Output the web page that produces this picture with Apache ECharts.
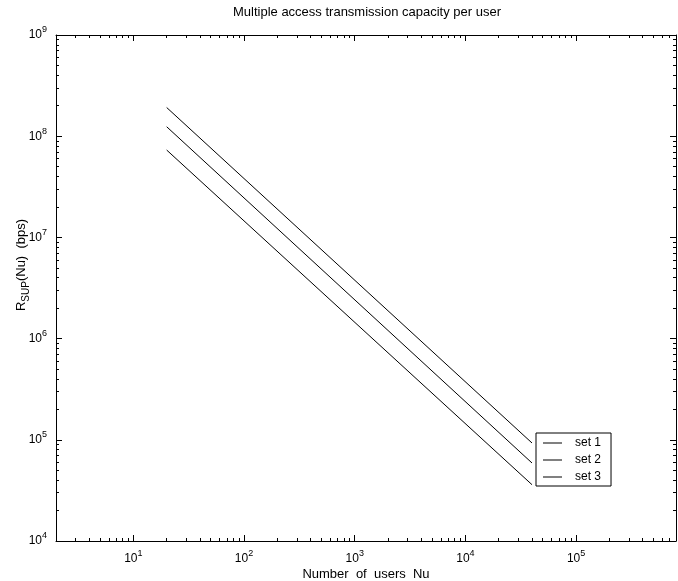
<!DOCTYPE html>
<html><head><meta charset="utf-8">
<script src="https://cdn.jsdelivr.net/npm/echarts@6/dist/echarts.min.js"></script>
<style>html,body{margin:0;padding:0;background:#fff}#c{width:678px;height:581px}</style>
</head><body><div id="c"></div>
<script>
// ---- data ----
const nuValues = [20, 40000];
const set1 = [1.92e8, 9.3e4];
const set2 = [1.24e8, 5.9e4];
const set3 = [7.3e7, 3.6e4];
const seriesNames = ['set 1', 'set 2', 'set 3'];
const xMajorTicks = [10, 100, 1000, 10000, 100000];
const yMajorTicks = [1e4, 1e5, 1e6, 1e7, 1e8, 1e9];
const xRange = [2, 800000];
const yRange = [1e4, 1e9];
const titleText = 'Multiple access transmission capacity per user';
const xName = 'Number  of  users  Nu';

// ---- helpers ----
const FONT = "'Liberation Sans', Arial, Helvetica, sans-serif";
function minorOf(range) {
  const out = [];
  const lo = Math.floor(Math.log10(range[0])), hi = Math.ceil(Math.log10(range[1]));
  for (let e = lo; e < hi; e++) for (let m = 2; m <= 9; m++) {
    const v = m * Math.pow(10, e);
    if (v > range[0] && v < range[1]) out.push(v);
  }
  return out;
}
const xMinor = minorOf(xRange), yMinor = minorOf(yRange);
function supFmt(v) { return '{b|10}{s|' + Math.round(Math.log10(v)) + '}'; }
const supRich = {
  b: {fontSize: 12, fontFamily: FONT, color: '#000'},
  s: {fontSize: 9, fontFamily: FONT, color: '#000', padding: [0, 0, 10, 0]}
};

function xAx(pos, ticks, len, withLabel, withLine) {
  return {
    type: 'log', logBase: 10, min: xRange[0], max: xRange[1], position: pos,
    axisLine: {show: withLine, lineStyle: {color: '#000', width: 1}},
    axisTick: {show: true, inside: true, length: len, customValues: ticks, lineStyle: {color: '#000'}},
    axisLabel: withLabel ? {show: true, customValues: xMajorTicks, formatter: supFmt, rich: supRich, margin: 8} : {show: false},
    splitLine: {show: false}, minorTick: {show: false}, minorSplitLine: {show: false},
    name: withLabel ? xName : '', nameLocation: 'middle', nameGap: 27, nameMoveOverlap: false,
    nameTextStyle: {fontSize: 13, fontFamily: FONT, color: '#000'}
  };
}
function yAx(pos, ticks, len, withLabel, withLine) {
  return {
    type: 'log', logBase: 10, min: yRange[0], max: yRange[1], position: pos,
    axisLine: {show: withLine, lineStyle: {color: '#000', width: 1}},
    axisTick: {show: true, inside: true, length: len, customValues: ticks, lineStyle: {color: '#000'}},
    axisLabel: withLabel ? {show: true, customValues: yMajorTicks, formatter: supFmt, rich: supRich, margin: 9} : {show: false},
    splitLine: {show: false}, minorTick: {show: false}, minorSplitLine: {show: false},
    name: withLabel ? '{r|R}{u|SUP}{r|(Nu)  (bps)}' : '', nameLocation: 'middle', nameGap: 25, nameRotate: 90,
    nameMoveOverlap: false,
    nameTextStyle: {fontSize: 13, fontFamily: FONT, color: '#000', padding: [0, 0, 0, 46], rich: {
      r: {fontSize: 13, fontFamily: FONT, color: '#000'},
      u: {fontSize: 10, fontFamily: FONT, color: '#000', padding: [10, 0, 0, 0]}
    }}
  };
}

const chart = echarts.init(document.getElementById('c'), null, {renderer: 'canvas'});
const lineStyle = {color: '#000', width: 1};
chart.setOption({
  backgroundColor: '#fff',
  animation: false,
  textStyle: {fontFamily: FONT},
  title: {text: titleText, left: 362, textAlign: 'center', top: 1,
    textStyle: {fontSize: 13, fontWeight: 'normal', fontFamily: FONT, color: '#000'}},
  grid: {left: 56, right: 2, top: 35, bottom: 40, containLabel: false, outerBoundsMode: 'none'},
  xAxis: [
    xAx('bottom', xMajorTicks, 6, true, true),
    xAx('bottom', xMinor, 3, false, false),
    xAx('top', xMajorTicks, 6, false, true),
    xAx('top', xMinor, 3, false, false)
  ],
  yAxis: [
    yAx('left', yMajorTicks, 6, true, true),
    yAx('left', yMinor, 3, false, false),
    yAx('right', yMajorTicks, 6, false, true),
    yAx('right', yMinor, 3, false, false)
  ],
  legend: {
    data: seriesNames.map(n => ({name: n, icon: 'rect'})), orient: 'vertical', left: 536, top: 433,
    padding: [3, 10, 2, 7], itemGap: 3, itemWidth: 19, itemHeight: 1,
    itemStyle: {color: '#000', borderWidth: 0},
    backgroundColor: '#fff', borderColor: '#000', borderWidth: 1, borderRadius: 0,
    textStyle: {fontSize: 12, fontFamily: FONT, color: '#000', lineHeight: 14, padding: [0, 0, 0, 8]}
  },
  series: [set1, set2, set3].map((vals, i) => ({
    name: seriesNames[i], type: 'line', xAxisIndex: 0, yAxisIndex: 0,
    data: nuValues.map((n, j) => [n, vals[j]]),
    symbol: 'none', lineStyle: lineStyle, itemStyle: {color: '#000'}
  }))
});
</script></body></html>
